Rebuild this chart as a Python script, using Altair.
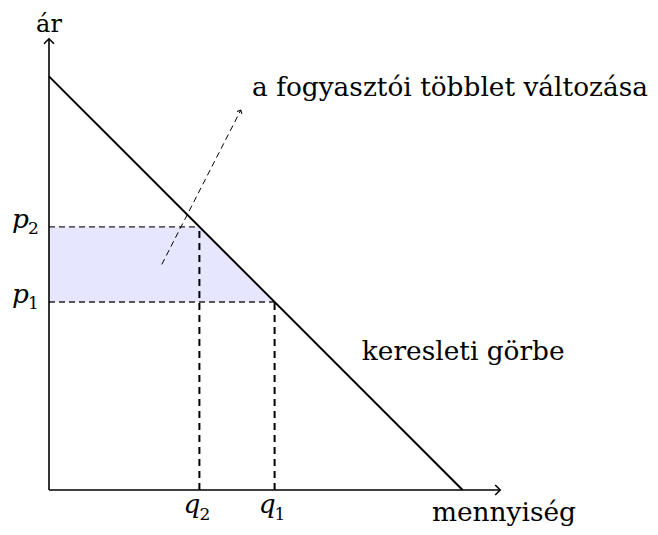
import altair as alt
import pandas as pd

# ---- data ----
demand_q = [0, 11]
demand_p = [11, 0]
price_levels = [5, 7]        # p1, p2
quantities = [6, 4]          # q1, q2 (matching p1, p2 on the demand curve)
sub_labels = ["1", "2"]
axis_max = 12
arrow_from = [3, 6]
arrow_to = [5.1, 10.1]
axis_titles = ["ár", "mennyiség"]
annotations = ["a fogyasztói többlet változása", "keresleti görbe"]

# ---- layout ----
S = 37.6
W, H = 642, 519
ox, oy = 41, 482
xs = alt.Scale(domain=[-ox / S, (W - ox) / S], nice=False, zero=False)
ys = alt.Scale(domain=[-(H - oy) / S, oy / S], nice=False, zero=False)
FONT = "DejaVu Serif"
FS = 26.4


def X(f="x"):
    return alt.X(f"{f}:Q", scale=xs, axis=None)


def Y(f="y"):
    return alt.Y(f"{f}:Q", scale=ys, axis=None)


# shaded band (between p1 and p2, under the demand curve)
area_df = pd.DataFrame({
    "x": [0, quantities[1], quantities[0]],
    "y": [price_levels[1], price_levels[1], price_levels[0]],
    "y2": [price_levels[0]] * 3,
})
area = alt.Chart(area_df).mark_area(color="#E6E6FF", opacity=1).encode(
    x=X(), y=Y(), y2="y2:Q")

hdash_df = pd.DataFrame({"x": [0, 0], "x2": quantities, "y": price_levels, "y2": price_levels})
hdash = alt.Chart(hdash_df).mark_rule(color="#222", strokeWidth=1.3, strokeDash=[6, 4]).encode(
    x=X(), x2="x2:Q", y=Y(), y2="y2:Q")

vdash_df = pd.DataFrame({"x": quantities, "x2": quantities, "y": [0, 0], "y2": price_levels})
vdash = alt.Chart(vdash_df).mark_rule(color="black", strokeWidth=2, strokeDash=[7, 5]).encode(
    x=X(), x2="x2:Q", y=Y(), y2="y2:Q")

demand_df = pd.DataFrame({"x": demand_q, "y": demand_p})
demand = alt.Chart(demand_df).mark_line(color="black", strokeWidth=2).encode(x=X(), y=Y())

axes_df = pd.DataFrame({"x": [0, 0], "x2": [axis_max, 0], "y": [0, 0], "y2": [0, axis_max]})
axes = alt.Chart(axes_df).mark_rule(color="black", strokeWidth=1.6).encode(
    x=X(), x2="x2:Q", y=Y(), y2="y2:Q")

CHEV = "M -1 -1 L 0 0 L -1 1"
heads_df = pd.DataFrame({"x": [axis_max, 0], "y": [0, axis_max], "ang": [0, 270]})
heads = alt.Chart(heads_df).mark_point(shape=CHEV, size=100, filled=False, color="black",
                                       strokeWidth=1.6, opacity=1).encode(
    x=X(), y=Y(), angle=alt.Angle("ang:Q", scale=None))

arr_df = pd.DataFrame({"x": [arrow_from[0]], "x2": [arrow_to[0]],
                       "y": [arrow_from[1]], "y2": [arrow_to[1]]})
arr = alt.Chart(arr_df).mark_rule(color="black", strokeWidth=1, strokeDash=[6, 4]).encode(
    x=X(), x2="x2:Q", y=Y(), y2="y2:Q")
arr_head_df = pd.DataFrame({"x": [arrow_to[0]], "y": [arrow_to[1]], "ang": [297.1]})
arr_head = alt.Chart(arr_head_df).mark_point(shape=CHEV, size=30, filled=False, color="black",
                                             strokeWidth=1, opacity=1).encode(
    x=X(), y=Y(), angle=alt.Angle("ang:Q", scale=None))


# texts
def text_layer(df, **kw):
    return alt.Chart(df).mark_text(font=FONT, color="black", **kw).encode(
        x=X(), y=Y(), text="t:N")


t_ar = text_layer(pd.DataFrame({"x": [0], "y": [12.18], "t": [axis_titles[0]]}),
                  fontSize=24, align="center", baseline="alphabetic")
t_menny = text_layer(pd.DataFrame({"x": [12.1], "y": [-0.83], "t": [axis_titles[1]]}),
                     fontSize=FS, align="center", baseline="alphabetic")
t_ann = text_layer(pd.DataFrame({"x": [5.4, 8.32], "y": [10.48, 3.46], "t": annotations}),
                   fontSize=FS, align="left", baseline="alphabetic")

p_main = text_layer(pd.DataFrame({"x": [0, 0], "y": price_levels, "t": ["p", "p"]}),
                    fontSize=FS, fontStyle="italic", align="right", baseline="alphabetic",
                    dx=-20, dy=1)
p_sub = text_layer(pd.DataFrame({"x": [0, 0], "y": price_levels, "t": sub_labels}),
                   fontSize=17, align="left", baseline="alphabetic", dx=-21, dy=7)
q_main = text_layer(pd.DataFrame({"x": quantities, "y": [0, 0], "t": ["q", "q"]}),
                    fontSize=FS, fontStyle="italic", align="right", baseline="alphabetic",
                    dx=1, dy=23)
q_sub = text_layer(pd.DataFrame({"x": quantities, "y": [0, 0], "t": sub_labels}),
                   fontSize=17, align="left", baseline="alphabetic", dx=0, dy=30)

chart = alt.layer(
    area, hdash, vdash, demand, axes, heads, arr, arr_head,
    t_ar, t_menny, t_ann, p_main, p_sub, q_main, q_sub
).properties(
    width=W, height=H, padding=0, autosize=alt.AutoSizeParams(type="none"),
    background="white"
).configure_view(stroke=None)

chart.save("out.html", embed_options={"renderer": "svg", "actions": False})
